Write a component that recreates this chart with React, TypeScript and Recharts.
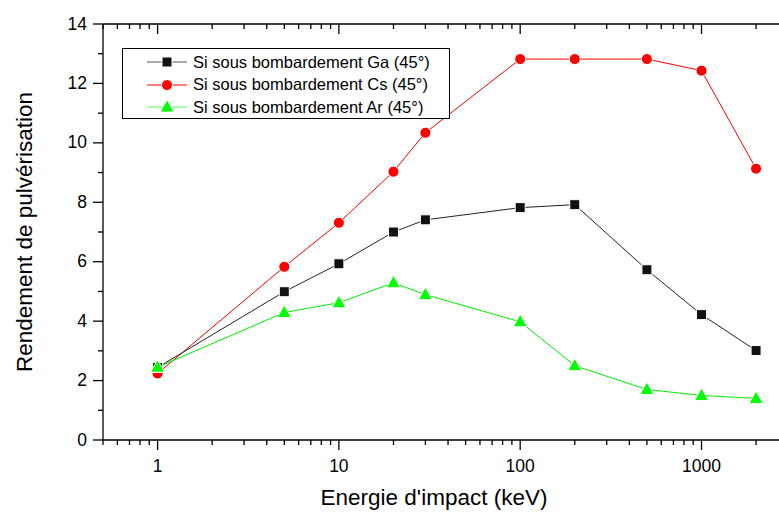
import React from "react";
import {
  LineChart,
  Line,
  XAxis,
  YAxis,
  Legend,
  Label,
} from "recharts";

// Energie d'impact (keV)
const energies = [1, 5, 10, 20, 30, 100, 200, 500, 1000, 2000];
const gaYield = [2.44, 4.99, 5.93, 7.0, 7.41, 7.82, 7.92, 5.73, 4.22, 3.01];
const csYield = [2.24, 5.83, 7.31, 9.03, 10.34, 12.82, 12.82, 12.82, 12.43, 9.13];
const arYield = [2.45, 4.29, 4.62, 5.29, 4.89, 3.98, 2.5, 1.7, 1.5, 1.4];

const xMajor = [1, 10, 100, 1000];
const xTicks = [
  0.5, 0.6, 0.7, 0.8, 0.9, 1, 2, 3, 4, 5, 6, 7, 8, 9, 10, 20, 30, 40, 50, 60,
  70, 80, 90, 100, 200, 300, 400, 500, 600, 700, 800, 900, 1000, 2000,
];
const yMajor = [0, 2, 4, 6, 8, 10, 12, 14];
const yTicks = [0, 1, 2, 3, 4, 5, 6, 7, 8, 9, 10, 11, 12, 13, 14];

const seriesNames = [
  "Si sous bombardement Ga (45°)",
  "Si sous bombardement Cs (45°)",
  "Si sous bombardement Ar (45°)",
];

const data = energies.map((e, i) => ({
  energy: e,
  ga: gaYield[i],
  cs: csYield[i],
  ar: arYield[i],
}));

const FONT = "'Liberation Sans', Arial, sans-serif";

const BottomTick = (props: any) => {
  const { x, y, payload } = props;
  const major = xMajor.includes(payload.value);
  return (
    <g>
      <line x1={x} x2={x} y1={y} y2={y + (major ? 10 : 5)} stroke="#000" strokeWidth={1.3} />
      {major && (
        <text x={x} y={y + 32} textAnchor="middle" fontSize={17.5} fontFamily={FONT} fill="#000">
          {payload.value}
        </text>
      )}
    </g>
  );
};

const TopTick = (props: any) => {
  const { x, y, payload } = props;
  const major = xMajor.includes(payload.value);
  return <line x1={x} x2={x} y1={y} y2={y + (major ? 10 : 5)} stroke="#000" strokeWidth={1.3} />;
};

const LeftTick = (props: any) => {
  const { x, y, payload } = props;
  const major = yMajor.includes(payload.value);
  return (
    <g>
      <line x1={x} x2={x - (major ? 10 : 5)} y1={y} y2={y} stroke="#000" strokeWidth={1.3} />
      {major && (
        <text x={x - 16} y={y + 5.5} textAnchor="end" fontSize={17.5} fontFamily={FONT} fill="#000">
          {payload.value}
        </text>
      )}
    </g>
  );
};

const RightTick = (props: any) => {
  const { x, y, payload } = props;
  const major = yMajor.includes(payload.value);
  return <line x1={x} x2={x - (major ? 10 : 5)} y1={y} y2={y} stroke="#000" strokeWidth={1.3} />;
};

const Square = (props: any) => {
  const { cx, cy } = props;
  if (cx == null || cy == null) return null;
  return <rect x={cx - 5} y={cy - 5} width={10} height={10} fill="#111" stroke="#fff" strokeWidth={1} />;
};

const Circle = (props: any) => {
  const { cx, cy } = props;
  if (cx == null || cy == null) return null;
  return <circle cx={cx} cy={cy} r={5.5} fill="#ff0000" stroke="#fff" strokeWidth={1} />;
};

const Triangle = (props: any) => {
  const { cx, cy } = props;
  if (cx == null || cy == null) return null;
  return (
    <polygon
      points={`${cx},${cy - 7.5} ${cx + 7},${cy + 5} ${cx - 7},${cy + 5}`}
      fill="#00ff00"
      stroke="#fff"
      strokeWidth={1}
    />
  );
};

const legendRows = [
  { name: seriesNames[0], color: "#555", Marker: Square },
  { name: seriesNames[1], color: "#ff0000", Marker: Circle },
  { name: seriesNames[2], color: "#55ff55", Marker: Triangle },
];

const LegendBox = () => (
  <div
    style={{
      border: "1.3px solid #000",
      background: "#fff",
      width: 328,
      height: 71,
      boxSizing: "border-box",
      paddingTop: 2,
      fontFamily: FONT,
      fontSize: 16.5,
    }}
  >
    {legendRows.map((r) => (
      <div key={r.name} style={{ display: "flex", alignItems: "center", height: 22.5 }}>
        <svg width={70} height={20} style={{ display: "block" }}>
          <line x1={24} x2={64} y1={10} y2={10} stroke={r.color} strokeWidth={1} />
          <r.Marker cx={44} cy={10} />
        </svg>
        <span style={{ color: "#000" }}>{r.name}</span>
      </div>
    ))}
  </div>
);

export default function App() {
  return (
    <div
      style={{
        position: "absolute",
        top: 0,
        left: 0,
        width: 779,
        height: 514,
        overflow: "hidden",
        background: "#fff",
      }}
    >
      <LineChart
        width={800}
        height={514}
        data={data}
        margin={{ top: 23, right: 2, bottom: 0, left: 43 }}
      >
        <XAxis
          dataKey="energy"
          type="number"
          scale="log"
          domain={[0.5, 3000]}
          allowDataOverflow
          ticks={xTicks}
          interval={0}
          tickSize={0}
          tickMargin={0}
          tickLine={false}
          tick={<BottomTick />}
          height={74}
          axisLine={{ stroke: "#000", strokeWidth: 1.3 }}
        >
          <Label
            content={(p: any) => {
              const vb = p.viewBox;
              return (
                <text
                  x={vb.x + vb.width / 2 - 11.5}
                  y={vb.y + 65}
                  textAnchor="middle"
                  fontSize={22.5}
                  fontFamily={FONT}
                  fill="#000"
                >
                  Energie d'impact (keV)
                </text>
              );
            }}
          />
        </XAxis>
        <XAxis
          xAxisId="top"
          orientation="top"
          dataKey="energy"
          type="number"
          scale="log"
          domain={[0.5, 3000]}
          allowDataOverflow
          ticks={xTicks}
          interval={0}
          tickSize={0}
          tickMargin={0}
          tickLine={false}
          tick={<TopTick />}
          height={1}
          axisLine={{ stroke: "#000", strokeWidth: 1.3 }}
        />
        <YAxis
          type="number"
          domain={[0, 14]}
          ticks={yTicks}
          interval={0}
          tickSize={0}
          tickMargin={0}
          tickLine={false}
          tick={<LeftTick />}
          width={60}
          axisLine={{ stroke: "#000", strokeWidth: 1.3 }}
        >
          <Label
            content={(p: any) => {
              const vb = p.viewBox;
              const bx = 32;
              const cy = vb.y + vb.height / 2;
              return (
                <text
                  x={bx}
                  y={cy}
                  transform={`rotate(-90, ${bx}, ${cy})`}
                  textAnchor="middle"
                  fontSize={22.5}
                  fontFamily={FONT}
                  fill="#000"
                >
                  Rendement de pulvérisation
                </text>
              );
            }}
          />
        </YAxis>
        <YAxis
          yAxisId="right"
          orientation="right"
          type="number"
          domain={[0, 14]}
          ticks={yTicks}
          interval={0}
          tickSize={0}
          tickMargin={0}
          tickLine={false}
          tick={<RightTick />}
          width={10}
          axisLine={{ stroke: "#000", strokeWidth: 1.3 }}
        />
        <Legend
          layout="horizontal"
          verticalAlign="middle"
          align="center"
          content={<LegendBox />}
          wrapperStyle={{ left: 122, top: 48, width: 328, height: 71 }}
        />
        <Line
          dataKey="cs"
          name={seriesNames[1]}
          stroke="#ff0000"
          strokeWidth={1}
          dot={<Circle />}
          activeDot={false}
          isAnimationActive={false}
        />
        <Line
          dataKey="ga"
          name={seriesNames[0]}
          stroke="#222"
          strokeWidth={1}
          dot={<Square />}
          activeDot={false}
          isAnimationActive={false}
        />
        <Line
          dataKey="ar"
          name={seriesNames[2]}
          stroke="#00ee00"
          strokeWidth={1}
          dot={<Triangle />}
          activeDot={false}
          isAnimationActive={false}
        />
      </LineChart>
    </div>
  );
}
